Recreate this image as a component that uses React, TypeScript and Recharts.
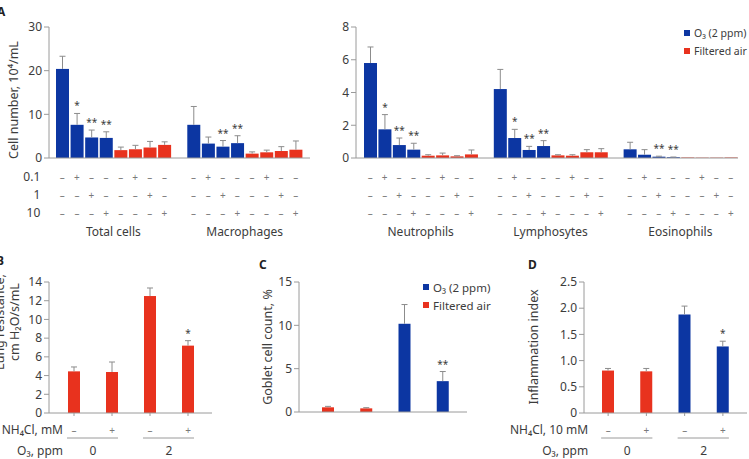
import React from 'react';
import { BarChart, Bar, XAxis, YAxis } from 'recharts';

const BLUE = '#0c36a2';
const RED = '#e8321e';
const ERR = '#8c8c8c';
const AXIS = '#9a9a9a';
const TEXT = '#3c3c3c';
const SIGN = '#7a7a7a';
const FONT = '"Noto Sans", "Open Sans", sans-serif';

// ---- A: BAL cell counts (10^4/mL), mean and SEM per condition ----
const cellGroups = ['Total cells', 'Macrophages', 'Neutrophils', 'Lymphosytes', 'Eosinophils'];
const exposureA = ['o3', 'o3', 'o3', 'o3', 'air', 'air', 'air', 'air'];
const doseLabels = ['0.1', '1', '10'];
const dose01 = ['–', '+', '–', '–', '–', '+', '–', '–'];
const dose1 = ['–', '–', '+', '–', '–', '–', '+', '–'];
const dose10 = ['–', '–', '–', '+', '–', '–', '–', '+'];

const totalMean = [20.4, 7.6, 4.7, 4.6, 1.8, 2.0, 2.4, 3.0];
const totalSem = [2.9, 2.6, 1.7, 1.4, 0.7, 0.9, 1.4, 0.7];
const totalSig = ['', '*', '**', '**', '', '', '', ''];

const macroMean = [7.6, 3.3, 2.6, 3.4, 1.0, 1.3, 1.6, 1.9];
const macroSem = [4.2, 1.5, 1.4, 1.7, 0.4, 0.5, 1.0, 2.0];
const macroSig = ['', '', '**', '**', '', '', '', ''];

const neutMean = [5.8, 1.75, 0.79, 0.51, 0.14, 0.16, 0.1, 0.22];
const neutSem = [0.98, 0.9, 0.43, 0.39, 0.06, 0.14, 0.04, 0.27];
const neutSig = ['', '*', '**', '**', '', '', '', ''];

const lymphMean = [4.21, 1.22, 0.49, 0.73, 0.16, 0.14, 0.35, 0.35];
const lymphSem = [1.2, 0.53, 0.22, 0.33, 0.04, 0.06, 0.16, 0.22];
const lymphSig = ['', '*', '**', '**', '', '', '', ''];

const eosMean = [0.53, 0.2, 0.08, 0.05, 0.03, 0.02, 0.02, 0.03];
const eosSem = [0.43, 0.31, 0.03, 0.01, 0, 0, 0, 0];
const eosSig = ['', '', '**', '**', '', '', '', ''];

// ---- B: lung resistance ----
const nh4Signs = ['–', '+', '–', '+'];
const o3Ppm = ['0', '0', '2', '2'];
const resistMean = [4.45, 4.38, 12.5, 7.2];
const resistSem = [0.47, 1.07, 0.86, 0.53];
const resistSig = ['', '', '', '*'];

// ---- C: goblet cells ----
const exposureCD = ['air', 'air', 'o3', 'o3'];
const gobletMean = [0.54, 0.42, 10.18, 3.56];
const gobletSem = [0.11, 0.08, 2.22, 1.11];
const gobletSig = ['', '', '', '**'];

// ---- D: inflammation index ----
const inflamMean = [0.81, 0.795, 1.88, 1.27];
const inflamSem = [0.04, 0.055, 0.16, 0.1];
const inflamSig = ['', '', '', '*'];

const legendItems = [
  { label: 'O₃ (2 ppm)', color: BLUE },
  { label: 'Filtered air', color: RED },
];

type Row = {
  id: string;
  value: number | null;
  sem: number;
  sig: string;
  exp: string;
  group?: string;
  pos: number;
};

const cellMeans = [totalMean, macroMean, neutMean, lymphMean, eosMean];
const cellSems = [totalSem, macroSem, neutSem, lymphSem, eosSem];
const cellSigs = [totalSig, macroSig, neutSig, lymphSig, eosSig];

function cellRows(groups: number[]): Row[] {
  const rows: Row[] = [];
  groups.forEach((g, gi) => {
    if (gi > 0) rows.push({ id: `gap${g}`, value: null, sem: 0, sig: '', exp: '', pos: -1 });
    cellMeans[g].forEach((v, i) =>
      rows.push({
        id: `${cellGroups[g]}-${i}`,
        value: v,
        sem: cellSems[g][i],
        sig: cellSigs[g][i],
        exp: exposureA[i],
        group: cellGroups[g],
        pos: i,
      })
    );
  });
  return rows;
}

function simpleRows(mean: number[], sem: number[], sig: string[], exp: string[]): Row[] {
  return mean.map((v, i) => ({ id: `c${i}`, value: v, sem: sem[i], sig: sig[i], exp: exp[i], pos: i }));
}

const rowsALeft = cellRows([0, 1]);
const rowsARight = cellRows([2, 3, 4]);
const rowsB = simpleRows(resistMean, resistSem, resistSig, ['air', 'air', 'air', 'air']);
const rowsC = simpleRows(gobletMean, gobletSem, gobletSig, exposureCD);
const rowsD = simpleRows(inflamMean, inflamSem, inflamSig, exposureCD);

// bar with an upward SEM whisker and significance marks
const BarWithError = (props: any) => {
  const { x, y, width, height, payload } = props;
  if (!payload || payload.value == null) return null;
  const fill = payload.exp === 'o3' ? BLUE : RED;
  const k = payload.value > 0 ? height / payload.value : 0;
  const top = y - payload.sem * k;
  const cx = x + width / 2;
  return (
    <g>
      <rect x={x} y={y} width={width} height={Math.max(height, 0)} fill={fill} />
      {payload.sem > 0 && (
        <g stroke={ERR} strokeWidth={1}>
          <line x1={cx} x2={cx} y1={y} y2={top} />
          <line x1={cx - 3} x2={cx + 3} y1={top} y2={top} />
        </g>
      )}
      {payload.sig && (
        <text x={cx} y={top - 4} textAnchor="middle" fontSize={10} fill={TEXT}>
          {payload.sig}
        </text>
      )}
    </g>
  );
};

const makeDoseTick = (rows: Row[], slot: number, showTitles: boolean) => (props: any) => {
  const { x, y, payload } = props;
  const r = rows.find((d) => d.id === payload.value);
  if (!r || r.pos < 0) return <g />;
  const signs = [dose01[r.pos], dose1[r.pos], dose10[r.pos]];
  return (
    <g>
      {signs.map((s, k) => (
        <text key={k} x={x} y={y + 22.5 + k * 18} textAnchor="middle" fontSize={10} fill={SIGN}>
          {s}
        </text>
      ))}
      {r.pos === 3 && (
        <text x={x + slot / 2} y={y + 78} textAnchor="middle" fontSize={12} fill={TEXT}>
          {r.group}
        </text>
      )}
      {showTitles && r.id === rows[0].id &&
        doseLabels.map((t, k) => (
          <text key={'t' + k} x={x - 22} y={y + 23 + k * 18} textAnchor="end" fontSize={12} fill={TEXT}>
            {t}
          </text>
        ))}
    </g>
  );
};

const makeTreatTick = (rows: Row[], slot: number, title: string, titleDx: number) => (props: any) => {
  const { x, y, payload } = props;
  const i = rows.findIndex((d) => d.id === payload.value);
  if (i < 0) return <g />;
  const ay = y - 3;
  return (
    <g>
      <text x={x} y={ay + 21} textAnchor="middle" fontSize={10} fill={SIGN}>
        {nh4Signs[i]}
      </text>
      {i % 2 === 0 && (
        <>
          <line x1={x - 7} x2={x + slot + 6} y1={ay + 25} y2={ay + 25} stroke={AXIS} strokeWidth={1} />
          <text x={x + slot / 2} y={ay + 42} textAnchor="middle" fontSize={12} fill={TEXT}>
            {o3Ppm[i]}
          </text>
        </>
      )}
      {i === 0 && (
        <>
          <text x={x + titleDx} y={ay + 21} textAnchor="end" fontSize={12} fill={TEXT}>
            {title}
          </text>
          <text x={x + titleDx} y={ay + 42} textAnchor="end" fontSize={12} fill={TEXT}>
            O₃, ppm
          </text>
        </>
      )}
    </g>
  );
};

const RotLabel = ({ cx, cy, size = 12.5, children }: any) => (
  <div
    style={{
      position: 'absolute',
      left: cx,
      top: cy,
      transform: 'translate(-50%, -50%) rotate(-90deg)',
      whiteSpace: 'nowrap',
      fontSize: size,
      color: TEXT,
      lineHeight: 1.2,
      textAlign: 'center',
    }}
  >
    {children}
  </div>
);

const PanelTag = ({ x, y, children }: any) => (
  <div style={{ position: 'absolute', left: x, top: y, fontSize: 12, fontWeight: 700, color: '#222', lineHeight: 1 }}>
    {children}
  </div>
);

const KeyBox = ({ x, y, gap, size = 10.5 }: any) => (
  <div style={{ position: 'absolute', left: x, top: y }}>
    {legendItems.map((it, i) => (
      <div key={it.label} style={{ display: 'flex', alignItems: 'center', height: 14, marginTop: i ? gap - 14 : 0 }}>
        <span style={{ width: 6, height: 6, background: it.color, marginRight: 4 }} />
        <span style={{ fontSize: size, color: TEXT, whiteSpace: 'nowrap' }}>{it.label}</span>
      </div>
    ))}
  </div>
);

const yTick = { fontSize: 12, fill: TEXT };

const CellChart = ({ rows, left, width, marginLeft, pad, domain, ticks, titles }: any) => {
  const plotW = width - 2 - marginLeft - 40 - pad.left - pad.right;
  const slot = plotW / rows.length;
  return (
    <div style={{ position: 'absolute', left, top: 0 }}>
      <BarChart width={width} height={245} data={rows} margin={{ top: 27, right: 2, left: marginLeft, bottom: 0 }} barSize={13}>
        <XAxis
          dataKey="id"
          height={87}
          interval={0}
          padding={pad}
          axisLine={{ stroke: AXIS }}
          tickLine={false}
          tickSize={0}
          tickMargin={0}
          tick={makeDoseTick(rows, slot, titles)}
        />
        <YAxis
          width={40}
          domain={domain}
          ticks={ticks}
          interval={0}
          axisLine={{ stroke: AXIS }}
          tickLine={{ stroke: AXIS }}
          tickSize={5}
          tick={yTick}
        />
        <Bar dataKey="value" shape={BarWithError} isAnimationActive={false} />
      </BarChart>
    </div>
  );
};

const SmallChart = ({ rows, left, width, marginLeft, pad, domain, ticks, xHeight, tick, fmt }: any) => (
  <div style={{ position: 'absolute', left, top: 250 }}>
    <BarChart width={width} height={209} data={rows} margin={{ top: 32, right: 2, left: marginLeft, bottom: 0 }} barSize={12}>
      <XAxis
        dataKey="id"
        height={xHeight}
        interval={0}
        padding={pad}
        axisLine={{ stroke: AXIS }}
        tickLine={{ stroke: AXIS }}
        tickSize={3}
        tickMargin={0}
        tick={tick}
      />
      <YAxis
        width={40}
        domain={domain}
        ticks={ticks}
        interval={0}
        axisLine={{ stroke: AXIS }}
        tickLine={{ stroke: AXIS }}
        tickSize={5}
        tick={yTick}
        tickFormatter={fmt}
      />
      <Bar dataKey="value" shape={BarWithError} isAnimationActive={false} />
    </BarChart>
  </div>
);

export default function App() {
  const slotB = (214 - 2 - 49 - 11) / 4;
  const slotD = (249 - 2 - 84 - 10) / 4;
  return (
    <div
      style={{
        position: 'absolute',
        left: 0,
        top: 0,
        width: 749,
        height: 459,
        overflow: 'hidden',
        background: '#fff',
        fontFamily: FONT,
      }}
    >
      <PanelTag x={-3} y={6}>A</PanelTag>
      <CellChart rows={rowsALeft} left={0} width={312} marginLeft={9} pad={{ left: 6, right: 7 }} domain={[0, 30]} ticks={[0, 10, 20, 30]} titles />
      <CellChart rows={rowsARight} left={300} width={440} marginLeft={16} pad={{ left: 7, right: 0 }} domain={[0, 8]} ticks={[0, 2, 4, 6, 8]} titles={false} />
      <RotLabel cx={13} cy={100}>Cell number, 10⁴/mL</RotLabel>
      <KeyBox x={684} y={26} gap={18} />

      <PanelTag x={-4} y={255}>B</PanelTag>
      <SmallChart
        rows={rowsB}
        left={0}
        width={214}
        marginLeft={9}
        pad={{ left: 6, right: 5 }}
        domain={[0, 14]}
        ticks={[0, 2, 4, 6, 8, 10, 12, 14]}
        xHeight={46}
        tick={makeTreatTick(rowsB, slotB, 'NH₄Cl, mM', -11)}
      />
      <RotLabel cx={7} cy={322}>
        Lung resistance,
        <br />
        cm H₂O/s/mL
      </RotLabel>

      <PanelTag x={259} y={259}>C</PanelTag>
      <SmallChart
        rows={rowsC}
        left={250}
        width={219}
        marginLeft={9}
        pad={{ left: 10, right: 5 }}
        domain={[0, 15]}
        ticks={[0, 5, 10, 15]}
        xHeight={47}
        tick={false}
      />
      <RotLabel cx={267} cy={347}>Goblet cell count, %</RotLabel>
      <KeyBox x={423} y={280} gap={18} size={11.5} />

      <PanelTag x={528} y={259}>D</PanelTag>
      <SmallChart
        rows={rowsD}
        left={500}
        width={249}
        marginLeft={44}
        pad={{ left: 5, right: 5 }}
        domain={[0, 2.5]}
        ticks={[0, 0.5, 1, 1.5, 2, 2.5]}
        xHeight={46}
        tick={makeTreatTick(rowsD, slotD, 'NH₄Cl, 10 mM', -20)}
        fmt={(v: number) => (v === 0 ? '0' : v.toFixed(1))}
      />
      <RotLabel cx={533} cy={347}>Inflammation index</RotLabel>
    </div>
  );
}
